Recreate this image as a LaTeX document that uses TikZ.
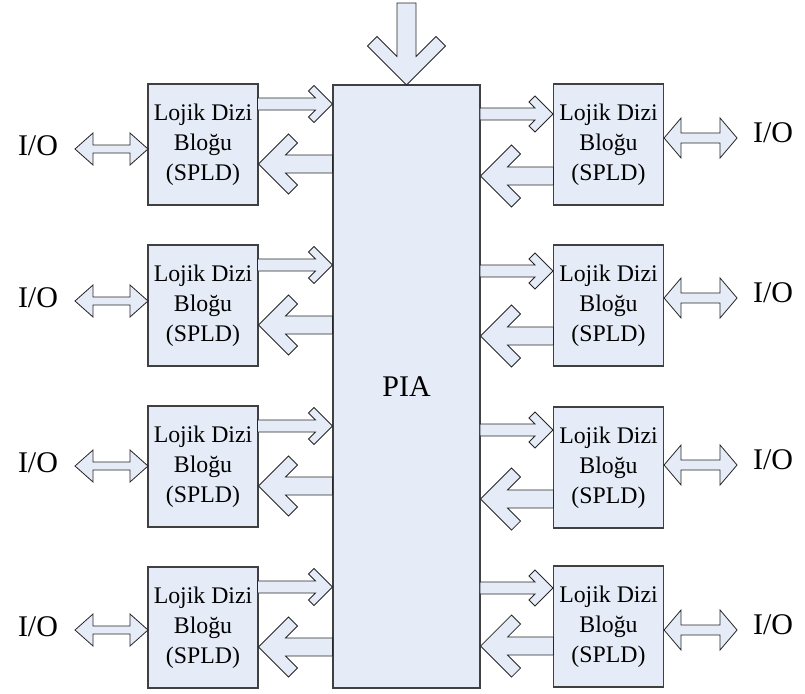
\documentclass[tikz,border=0pt]{standalone}
\usepackage{fontspec}
\setmainfont{Liberation Serif}
\usetikzlibrary{calc}
\definecolor{fillblue}{RGB}{230,236,247}
\definecolor{edge}{RGB}{64,64,64}

\tikzset{
  blk/.style={draw=edge, line width=1.1pt, fill=fillblue,
    minimum width=110pt, minimum height=121pt, inner sep=0pt,
    align=center, font=\fontsize{23.8}{30}\selectfont},
  piabox/.style={draw=edge, line width=1.1pt, fill=fillblue,
    minimum width=147pt, minimum height=603pt, inner sep=0pt,
    font=\fontsize{30}{36}\selectfont},
  iolabel/.style={font=\fontsize{30}{36}\selectfont, inner sep=0pt},
  fatarrow/.style={draw=black!85, line width=0.8pt, fill=fillblue, line join=miter},
}

% Chevron-headed block arrow.
% #1 tip, #2 rotation, #3 length, #4 head reach, #5 arm offset, #6 shaft half-width
\newcommand\chevarrow[6]{%
  \begin{scope}[shift={(#1)}, rotate=#2]
    \filldraw[fatarrow] (0,0) -- (-#4,#4) -- ({-#4-#5},{#4-#5})
      -- ({-2*#5-#6},#6) -- (-#3,#6) -- (-#3,-#6) -- ({-2*#5-#6},-#6)
      -- ({-#4-#5},{-#4+#5}) -- (-#4,-#4) -- cycle;
  \end{scope}}

% Double-headed block arrow, drawn from its left tip.
% #1 left tip, #2 length, #3 head length, #4 head half-height, #5 shaft half-width
\newcommand\dblarrow[5]{%
  \begin{scope}[shift={(#1)}]
    \filldraw[fatarrow] (0,0) -- (#3,#4) -- (#3,#5) -- ({#2-#3},#5) -- ({#2-#3},#4)
      -- (#2,0) -- ({#2-#3},-#4) -- ({#2-#3},-#5) -- (#3,-#5) -- (#3,-#4) -- cycle;
  \end{scope}}

\begin{document}
\begin{tikzpicture}[x=1pt, y=-1pt]
  \useasboundingbox (0,0) rectangle (805,693);

  % central interconnect array
  \node[piabox] (PIA) at (406.5,386.5) {PIA};

  % input from above
  \coordinate (topin) at (406.5,85);
  \chevarrow{topin}{-90}{82}{39}{9.5}{9.5}

  % left column of logic blocks
  \foreach \i/\t/\io in {1/84/149, 2/245/301, 3/406/466, 4/567/630} {
    \node[blk] (L\i) at (203,\t+60.5) {Lojik Dizi\\Bloğu\\(SPLD)};
    \node[iolabel] (IOL\i) at (38,\io-3) {I/O};
    \coordinate (Lin\i) at (PIA.west |- 0,\t+20);
    \coordinate (Lout\i) at (L\i.east |- 0,\t+80);
    \coordinate (Lio\i) at (75,\io);
    \chevarrow{Lin\i}{0}{75}{18.5}{5.5}{6}
    \chevarrow{Lout\i}{180}{74}{30}{9}{9}
    \dblarrow{Lio\i}{73}{18}{16}{4}
  }

  % right column of logic blocks
  \foreach \i/\t/\io/\s/\b in {1/84/138/114/176, 2/245/298/271/336, 3/407/465/430/499, 4/566/630/588/646} {
    \node[blk] (R\i) at (608.5,\t+60.5) {Lojik Dizi\\Bloğu\\(SPLD)};
    \node[iolabel] (IOR\i) at (773,\io-5) {I/O};
    \coordinate (Rin\i) at (R\i.west |- 0,\s);
    \coordinate (Rout\i) at (PIA.east |- 0,\b);
    \coordinate (Rio\i) at (R\i.east |- 0,\io);
    \chevarrow{Rin\i}{0}{73}{18}{6}{6}
    \chevarrow{Rout\i}{180}{73}{31}{9}{9}
    \dblarrow{Rio\i}{73}{17}{20}{5}
  }
\end{tikzpicture}
\end{document}
